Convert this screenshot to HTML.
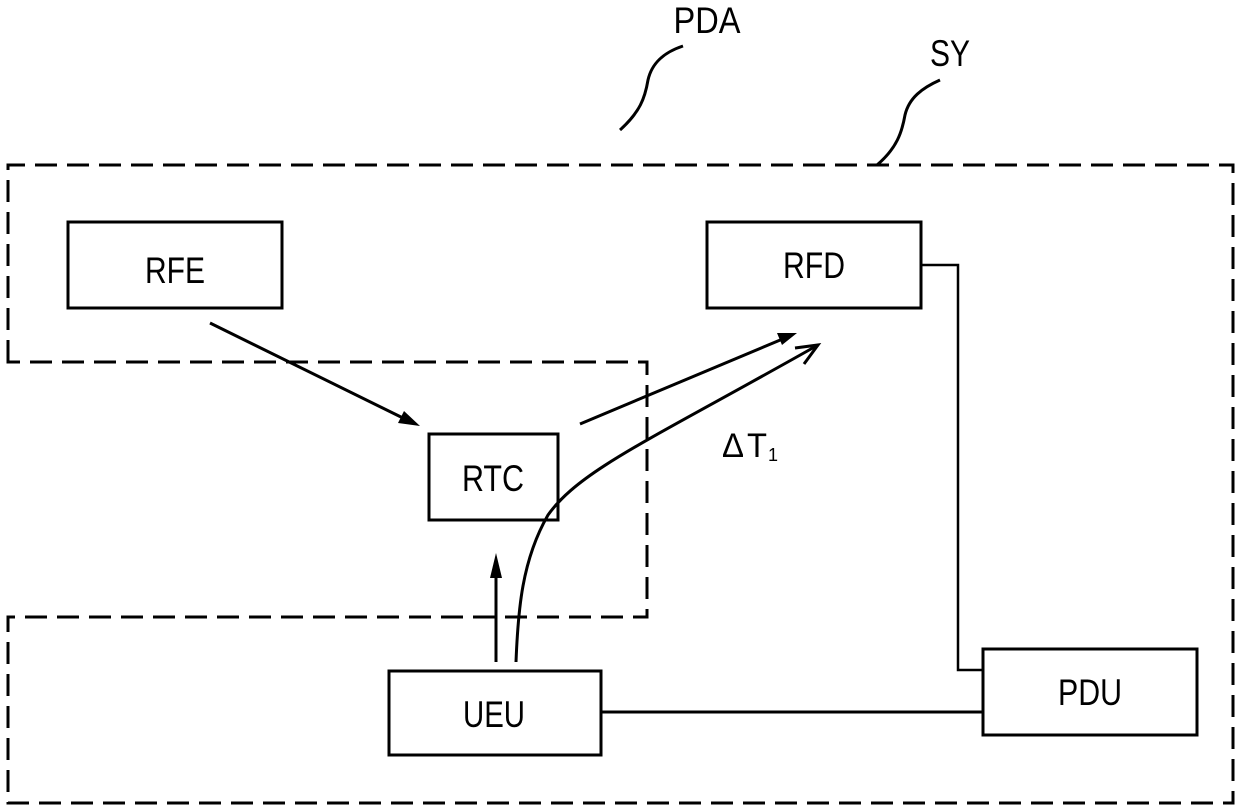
<!DOCTYPE html>
<html><head><style>body{margin:0;background:#fff}svg{display:block}text{font-family:"Liberation Sans",sans-serif;fill:#000}</style></head>
<body>
<svg width="1240" height="810" viewBox="0 0 1240 810" xmlns="http://www.w3.org/2000/svg">
<g fill="none" stroke="#000" stroke-width="3">
<path d="M8,362 L8,165 L1233,165 L1233,803 L8,803 L8,617 L647,617 L647,362 Z" stroke-dasharray="22,10"/>
<rect x="68" y="222" width="214" height="86"/>
<rect x="707" y="222" width="214" height="86"/>
<rect x="429" y="434" width="129" height="86"/>
<rect x="389" y="671" width="212" height="84"/>
<rect x="983" y="649" width="214" height="86"/>
<polyline points="921,265 958,265 958,670 983,670" stroke-width="2.5"/>
<line x1="601" y1="712" x2="983" y2="712"/>
<line x1="210" y1="323" x2="405" y2="419"/>
<line x1="580" y1="424" x2="785" y2="338"/>
<line x1="496" y1="662" x2="496" y2="570"/>
<path d="M516,662 C518,610 522,560 548,515 C580,470 650,440 818,345"/>
<path d="M795,348 L818,345 L804,364"/>
<path d="M620,130 C640,112 645,98 648,80 C652,62 665,52 683,46"/>
<path d="M877,165 C897,148 902,132 905,115 C909,98 922,88 940,80"/>
</g>
<g fill="#000">
<polygon points="420,426 398,423 404,411"/>
<polygon points="797,333 782,345 777,333"/>
<polygon points="496,553 502,578 490,578"/>
</g>
<g font-size="37" text-anchor="middle">
<text x="175" y="283" textLength="60" lengthAdjust="spacingAndGlyphs">RFE</text>
<text x="814" y="278" textLength="62" lengthAdjust="spacingAndGlyphs">RFD</text>
<text x="493" y="491" textLength="62" lengthAdjust="spacingAndGlyphs">RTC</text>
<text x="494" y="727" textLength="62" lengthAdjust="spacingAndGlyphs">UEU</text>
<text x="1090" y="705" textLength="64" lengthAdjust="spacingAndGlyphs">PDU</text>
<text x="707" y="33" textLength="67" lengthAdjust="spacingAndGlyphs">PDA</text>
<text x="950" y="66" textLength="40" lengthAdjust="spacingAndGlyphs">SY</text>
</g>
<text x="722" y="457" font-size="34" textLength="22" lengthAdjust="spacingAndGlyphs">Δ</text>
<text x="747" y="457" font-size="34" textLength="20" lengthAdjust="spacingAndGlyphs">T</text>
<text x="768" y="461" font-size="18">1</text>
</svg>
</body></html>
